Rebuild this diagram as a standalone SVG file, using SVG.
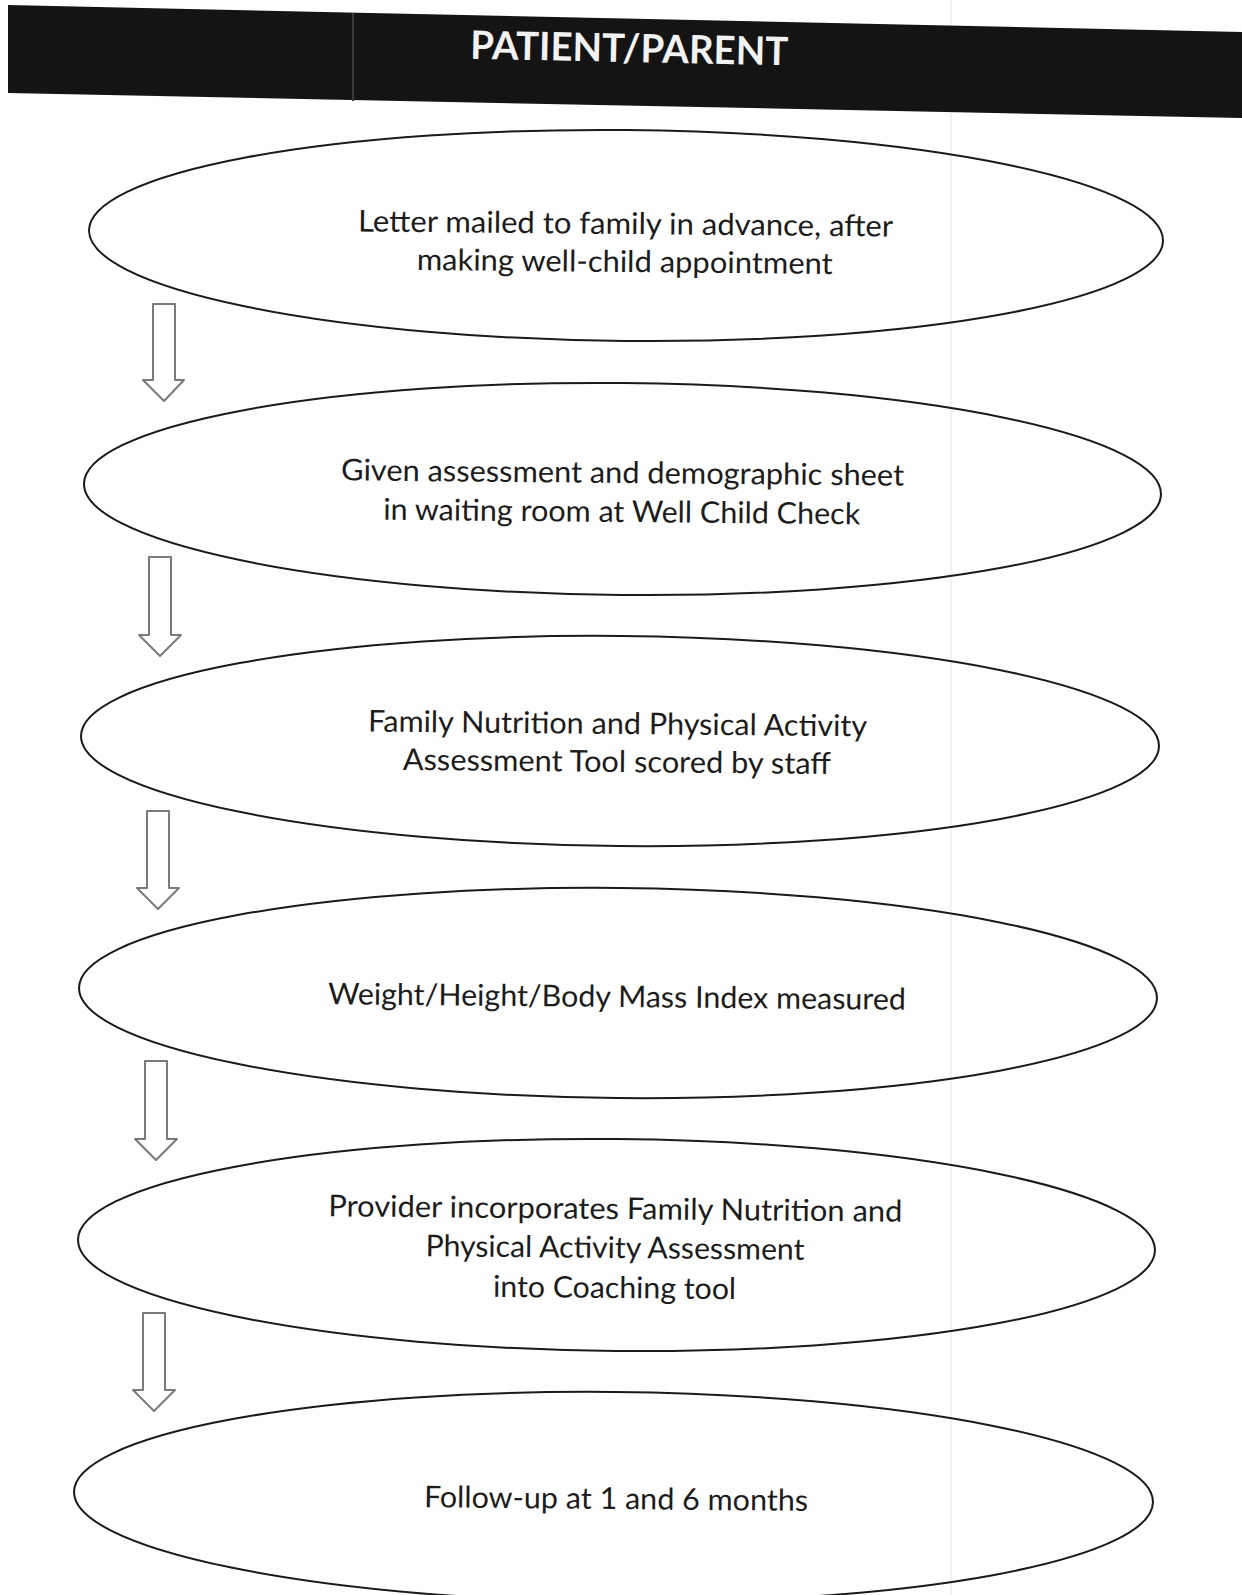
<svg xmlns="http://www.w3.org/2000/svg" width="1242" height="1595" viewBox="0 0 1242 1595">
<style>
.bg{fill:#ffffff}
.node ellipse{fill:none;stroke:#1a1a1a;stroke-width:2}
.node text{font-family:Lato,"Open Sans","Liberation Sans",sans-serif;font-size:30px;fill:#1c1c1c;text-anchor:middle}
.arrow{fill:#ffffff;stroke:#7a7a7a;stroke-width:2;stroke-linejoin:round}
.hdr{font-family:Lato,"Open Sans","Liberation Sans",sans-serif;font-weight:bold;font-size:39px;fill:#f2f2f2;text-anchor:middle}
</style>
<rect class="bg" x="0" y="0" width="1242" height="1595"/>
<line x1="951" y1="0" x2="951" y2="1595" stroke="#f1ecee" stroke-width="1.5"/>

<g id="header">
  <polygon points="8,5 1242,32 1242,118 8,93" fill="#141414"/>
  <line x1="353" y1="13" x2="353" y2="101" stroke="#3a3a3a" stroke-width="2"/>
  <text class="hdr" x="629" y="62" textLength="318" lengthAdjust="spacingAndGlyphs" transform="rotate(1.2 629 62)">PATIENT/PARENT</text>
</g>

<g id="connectors">
  <path class="arrow" d="M153,304 H175 V380 H184 L164,401 L143,380 H153 Z"/>
  <path class="arrow" d="M149,557 H171 V635 H181 L160,656 L139,635 H149 Z"/>
  <path class="arrow" d="M147,811 H169 V888 H179 L158,909 L137,888 H147 Z"/>
  <path class="arrow" d="M145,1061 H167 V1139 H177 L156,1160 L135,1139 H145 Z"/>
  <path class="arrow" d="M143,1313 H165 V1390 H175 L154,1411 L133,1390 H143 Z"/>
</g>

<g id="node1" class="node" transform="rotate(0.55 626 235.5)">
  <ellipse cx="626" cy="235.5" rx="537" ry="105.5"/>
  <text x="625.5" y="234" textLength="535" lengthAdjust="spacingAndGlyphs">Letter mailed to family in advance, after</text>
  <text x="625" y="272" textLength="416" lengthAdjust="spacingAndGlyphs">making well-child appointment</text>
</g>

<g id="node2" class="node" transform="rotate(0.55 622.5 489)">
  <ellipse cx="622.5" cy="489" rx="538.5" ry="106"/>
  <text x="622.5" y="483" textLength="563" lengthAdjust="spacingAndGlyphs">Given assessment and demographic sheet</text>
  <text x="622" y="522" textLength="477" lengthAdjust="spacingAndGlyphs">in waiting room at Well Child Check</text>
</g>

<g id="node3" class="node" transform="rotate(0.55 620 741)">
  <ellipse cx="620" cy="741" rx="539" ry="105"/>
  <text x="617.5" y="734" textLength="499" lengthAdjust="spacingAndGlyphs">Family Nutrition and Physical Activity</text>
  <text x="617" y="772" textLength="428" lengthAdjust="spacingAndGlyphs">Assessment Tool scored by staff</text>
</g>

<g id="node4" class="node" transform="rotate(0.55 618 993)">
  <ellipse cx="618" cy="993" rx="539" ry="105"/>
  <text x="617" y="1007" textLength="578" lengthAdjust="spacingAndGlyphs">Weight/Height/Body Mass Index measured</text>
</g>

<g id="node5" class="node" transform="rotate(0.55 616.5 1245)">
  <ellipse cx="616.5" cy="1245" rx="538.5" ry="106"/>
  <text x="615" y="1219" textLength="574" lengthAdjust="spacingAndGlyphs">Provider incorporates Family Nutrition and</text>
  <text x="615" y="1258" textLength="379" lengthAdjust="spacingAndGlyphs">Physical Activity Assessment</text>
  <text x="615" y="1298" textLength="243" lengthAdjust="spacingAndGlyphs">into Coaching tool</text>
</g>

<g id="node6" class="node" transform="rotate(0.55 613.5 1497)">
  <ellipse cx="613.5" cy="1497" rx="539.5" ry="105"/>
  <text x="616" y="1509" textLength="384" lengthAdjust="spacingAndGlyphs">Follow-up at 1 and 6 months</text>
</g>
</svg>
